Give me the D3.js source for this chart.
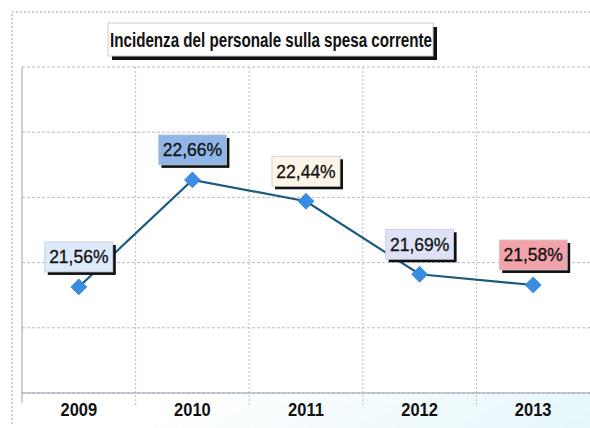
<!DOCTYPE html>
<html><head><meta charset="utf-8">
<script src="https://cdn.jsdelivr.net/npm/d3@7"></script>
<style>body{margin:0;background:#fff}svg{display:block}</style>
</head><body>
<svg id="c" width="590" height="428"></svg>
<script>
const title = "Incidenza del personale sulla spesa corrente";
const years = ["2009","2010","2011","2012","2013"];
const values = [21.56, 22.66, 22.44, 21.69, 21.58];
const valueLabels = ["21,56%","22,66%","22,44%","21,69%","21,58%"];
const labelFills = ["#dce9f8","#8fb6e6","#fdf6e8","#dfe2f6","#f2a3aa"];
const yDomain = [20.47, 23.82];

(function(){
const svg = d3.select("#c");
const W = 590, H = 428;
const pL = 22, pR = 590, pT = 67, pB = 393;

const defs = svg.append("defs");
const g = defs.append("linearGradient").attr("id","bg").attr("x1","0").attr("y1","0").attr("x2","1").attr("y2","1");
g.append("stop").attr("offset","0.6").attr("stop-color","#ffffff");
g.append("stop").attr("offset","1").attr("stop-color","#e6f6fb");
svg.append("rect").attr("x",12).attr("y",12).attr("width",W-12).attr("height",H-12).attr("fill","url(#bg)");

svg.append("path").attr("d",`M12,${H-4} L12,12 L${W},12`).attr("fill","none")
  .attr("stroke","#9aa3b5").attr("stroke-width",1).attr("stroke-dasharray","2,2");

const x = d3.scaleBand().domain(years).range([pL,pR]).padding(0);
const y = d3.scaleLinear().domain(yDomain).range([pB,pT]);

svg.append("rect").attr("x",pL).attr("y",pT).attr("width",pR-pL).attr("height",pB-pT).attr("fill","#fff");

const gridVals = d3.range(6).map(i => yDomain[0] + i*(yDomain[1]-yDomain[0])/5);
svg.append("g").selectAll("line").data(gridVals).join("line")
  .attr("x1",pL).attr("x2",pR).attr("y1",d=>y(d)).attr("y2",d=>y(d))
  .attr("stroke","#b8bcc8").attr("stroke-width",1).attr("stroke-dasharray","3,2");
svg.append("g").selectAll("line").data(years.slice(1)).join("line")
  .attr("x1",d=>x(d)).attr("x2",d=>x(d)).attr("y1",pT).attr("y2",pB+12)
  .attr("stroke","#b8bcc8").attr("stroke-width",1).attr("stroke-dasharray","2,2");
svg.append("line").attr("x1",pL).attr("x2",pL).attr("y1",pT).attr("y2",pB+10).attr("stroke","#9aa0b0");
svg.append("line").attr("x1",pL).attr("x2",pR).attr("y1",pB).attr("y2",pB).attr("stroke","#9aa0b0");

svg.append("g").selectAll("text").data(years).join("text")
  .attr("transform",d=>`translate(${x(d)+x.bandwidth()/2},416) scale(1,1.15)`)
  .attr("text-anchor","middle").attr("font-family","Liberation Sans, Arial, sans-serif")
  .attr("font-weight","bold").attr("font-size",16.5).attr("fill","#111").text(d=>d);

const pts = years.map((yr,i)=>[x(yr)+x.bandwidth()/2, y(values[i])]);
svg.append("path").attr("d",d3.line()(pts)).attr("fill","none").attr("stroke","#1d5a7e").attr("stroke-width",2.2);
svg.append("g").selectAll("path").data(pts).join("path")
  .attr("transform",d=>`translate(${d[0]},${d[1]})`)
  .attr("d",d3.symbol().type(d3.symbolDiamond2).size(160))
  .attr("fill","#3a8ee2").attr("stroke","#2f7bd0").attr("stroke-width",0.8);

const bw = 68, bh = 30;
const lg = svg.append("g").selectAll("g").data(pts).join("g")
  .attr("transform",d=>`translate(${d[0]},${d[1]-30})`);
lg.append("rect").attr("x",-bw/2+3).attr("y",-bh/2+3).attr("width",bw).attr("height",bh).attr("fill","#111");
lg.append("rect").attr("x",-bw/2).attr("y",-bh/2).attr("width",bw).attr("height",bh)
  .attr("fill",(d,i)=>labelFills[i]).attr("stroke","#c8ccd6").attr("stroke-width",0.8);
lg.append("text").attr("y",6.5).attr("text-anchor","middle")
  .attr("font-family","Liberation Sans, Arial, sans-serif").attr("font-size",17.5).attr("fill","#111")
  .attr("stroke","#111").attr("stroke-width",0.3)
  .text((d,i)=>valueLabels[i]);

svg.append("rect").attr("x",112).attr("y",27).attr("width",325).attr("height",33).attr("fill","#111");
svg.append("rect").attr("x",108).attr("y",23).attr("width",325).attr("height",33).attr("fill","#fff").attr("stroke","#c8ccd6");
svg.append("text").attr("x",271).attr("y",47).attr("text-anchor","middle")
  .attr("font-family","Liberation Sans, Arial, sans-serif").attr("font-weight","bold").attr("font-size",20)
  .attr("textLength",322).attr("lengthAdjust","spacingAndGlyphs").attr("fill","#111").text(title);
})();
</script>
</body></html>
